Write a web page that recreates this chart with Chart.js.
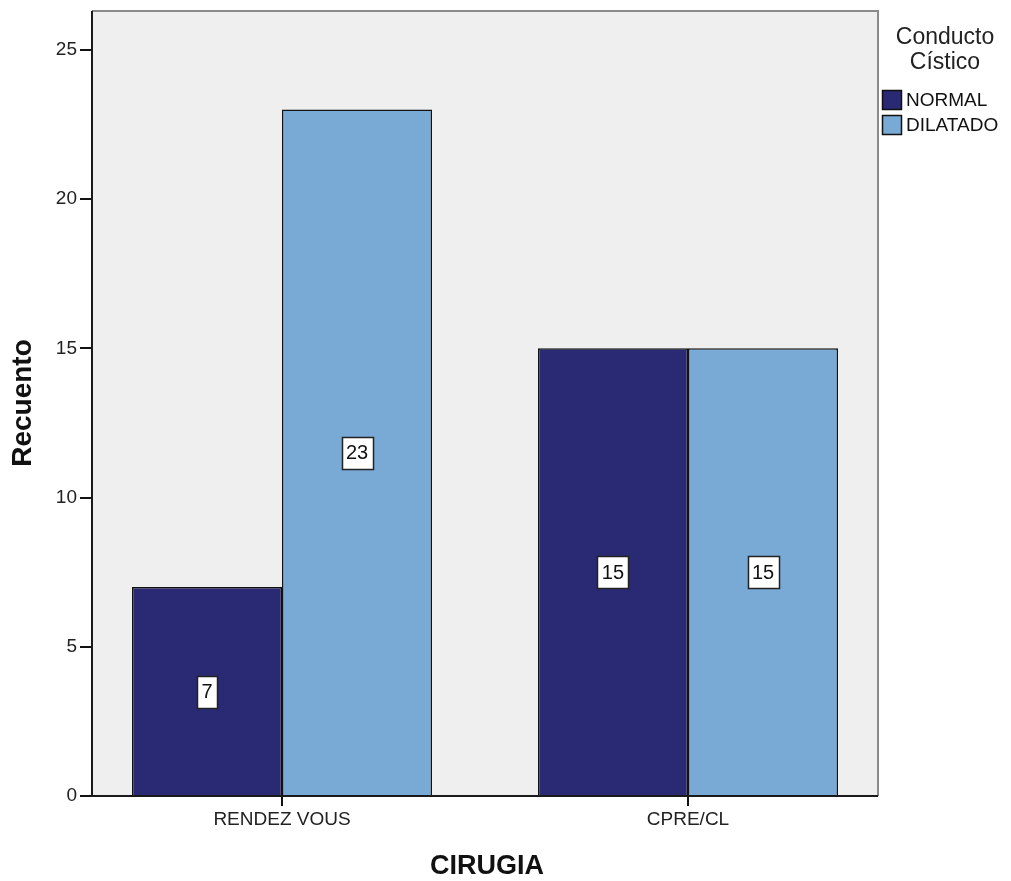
<!DOCTYPE html>
<html><head><meta charset="utf-8">
<script src="https://cdn.jsdelivr.net/npm/chart.js@4/dist/chart.umd.min.js"></script>
<style>html,body{margin:0;padding:0;background:#fff}#wrap{width:1011px;height:881px}</style>
</head><body><div id="wrap"><canvas id="c" width="1011" height="881"></canvas></div>
<script>
const categories = ["RENDEZ VOUS", "CPRE/CL"];
const seriesNames = ["NORMAL", "DILATADO"];
const normalValues = [7, 15];
const dilatadoValues = [23, 15];
const yTicks = [0, 5, 10, 15, 20, 25];
const legendTitle = ["Conducto", "Cístico"];
const xTitle = "CIRUGIA";
const yTitle = "Recuento";
const FONT = "'Liberation Sans', Arial, sans-serif";

const bgPlugin = {
  id: 'bg',
  beforeDraw(chart) {
    const {ctx, chartArea: a} = chart;
    ctx.save();
    ctx.fillStyle = '#efefef';
    ctx.fillRect(a.left, a.top, a.right - a.left, a.bottom - a.top);
    ctx.restore();
  },
  afterDatasetsDraw(chart) {
    const {ctx, chartArea: a} = chart;
    ctx.save();
    ctx.strokeStyle = '#8a8a8a';
    ctx.lineWidth = 2;
    ctx.beginPath();
    ctx.moveTo(a.left, a.top); ctx.lineTo(a.right, a.top); ctx.lineTo(a.right, a.bottom);
    ctx.stroke();
    ctx.strokeStyle = '#1a1a1a';
    ctx.lineWidth = 2;
    ctx.beginPath();
    ctx.moveTo(a.left, a.top); ctx.lineTo(a.left, a.bottom); ctx.lineTo(a.right, a.bottom);
    ctx.stroke();
    // value labels
    ctx.font = '20px ' + FONT;
    ctx.textAlign = 'center'; ctx.textBaseline = 'middle';
    chart.data.datasets.forEach((ds, di) => {
      const meta = chart.getDatasetMeta(di);
      meta.data.forEach((bar, i) => {
        const v = ds.data[i].y;
        const cy = chart.scales.y.getPixelForValue(v / 2);
        const txt = String(v);
        const w = Math.round(ctx.measureText(txt).width + 9);
        const h = 32;
        const x0 = Math.round(bar.x - w / 2) + 0.5, y0 = Math.round(cy - h / 2) + 0.5;
        ctx.fillStyle = '#ffffff';
        ctx.fillRect(x0, y0, w, h);
        ctx.strokeStyle = '#222';
        ctx.lineWidth = 1.5;
        ctx.strokeRect(x0, y0, w, h);
        ctx.fillStyle = '#111';
        ctx.fillText(txt, bar.x, cy + 1);
      });
    });
    ctx.restore();
  },
  afterDraw(chart) {
    const {ctx, chartArea: a} = chart;
    ctx.save();
    ctx.fillStyle = '#111';
    ctx.font = 'bold 27px ' + FONT;
    ctx.textAlign = 'center'; ctx.textBaseline = 'middle';
    ctx.fillText(xTitle, 487, 867);
    ctx.save();
    ctx.translate(23, 403);
    ctx.rotate(-Math.PI / 2);
    ctx.font = 'bold 28px ' + FONT;
    ctx.fillText(yTitle, 0, 0);
    ctx.restore();
    // legend
    ctx.font = '23px ' + FONT;
    ctx.fillStyle = '#222';
    legendTitle.forEach((t, i) => ctx.fillText(t, 945, 38 + i * 25));
    ctx.font = '19px ' + FONT;
    ctx.textAlign = 'left';
    chart.data.datasets.forEach((ds, i) => {
      const y = 90 + i * 25;
      ctx.fillStyle = ds.backgroundColor;
      ctx.fillRect(882.5, y + 0.5, 19, 19);
      ctx.strokeStyle = '#111'; ctx.lineWidth = 1.5;
      ctx.strokeRect(882.5, y + 0.5, 19, 19);
      ctx.fillStyle = '#111';
      ctx.fillText(ds.label, 906, y + 11);
    });
    ctx.restore();
  }
};

new Chart(document.getElementById('c'), {
  type: 'bar',
  data: {
    datasets: [
      { label: seriesNames[0], data: normalValues.map((v, i) => ({x: i, y: v})), backgroundColor: '#292a73', borderColor: '#111', borderWidth: 1.5 },
      { label: seriesNames[1], data: dilatadoValues.map((v, i) => ({x: i, y: v})), backgroundColor: '#79a9d5', borderColor: '#111', borderWidth: 1.5 }
    ]
  },
  options: {
    responsive: false,
    animation: false,
    devicePixelRatio: 1,
    layout: { padding: { top: 11, right: 133, left: 0, bottom: 0 } },
    plugins: { legend: { display: false }, tooltip: { enabled: false } },
    datasets: { bar: { categoryPercentage: 0.739, barPercentage: 1.0, grouped: true } },
    scales: {
      x: {
        type: 'linear', min: -0.468, max: 1.468, offset: false,
        afterBuildTicks(s) { s.ticks = categories.map((c, i) => ({value: i})); },
        afterFit(s) { s.height = 85; s.paddingLeft = 0; s.paddingRight = 0; },
        ticks: { callback: (v) => categories[v] ?? '', color: '#222', font: { size: 19, family: FONT }, padding: 2, maxRotation: 0, autoSkip: false },
        grid: { offset: false, drawOnChartArea: false, drawTicks: true, tickLength: 10, color: '#111', lineWidth: 2 },
        border: { display: false }
      },
      y: {
        min: 0, max: 26.3,
        afterBuildTicks(s) { s.ticks = yTicks.map(v => ({value: v})); },
        afterFit(s) { s.width = 92; s.paddingTop = 0; s.paddingBottom = 0; },
        ticks: { color: '#222', font: { size: 19, family: FONT }, padding: 3 },
        grid: { drawOnChartArea: false, drawTicks: true, tickLength: 12, color: '#111', lineWidth: 2 },
        border: { display: false }
      }
    }
  },
  plugins: [bgPlugin]
});
</script></body></html>
